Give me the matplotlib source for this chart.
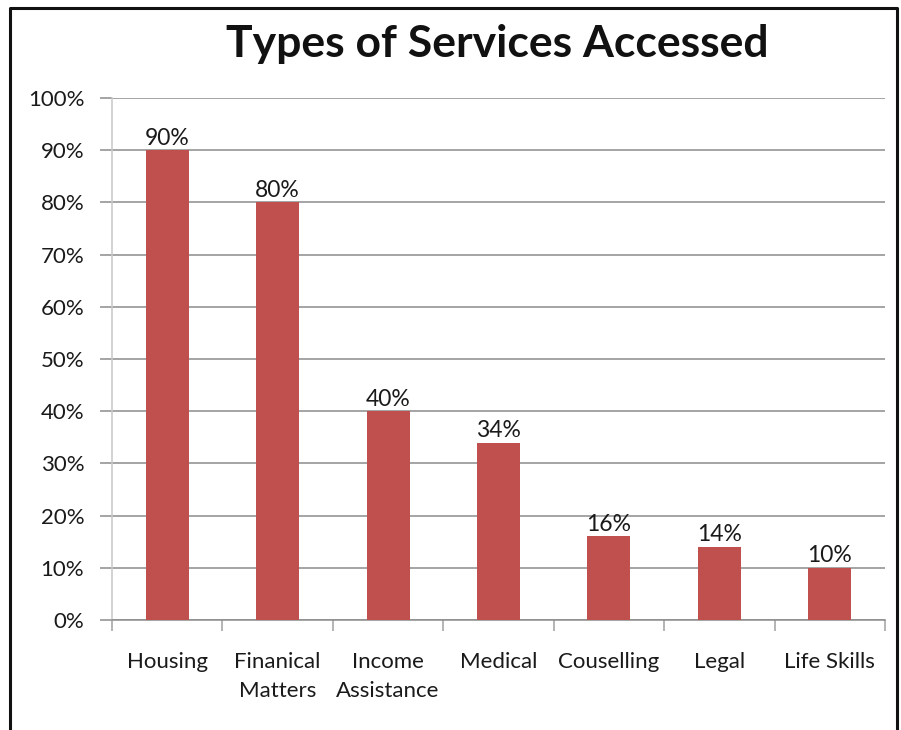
import matplotlib.pyplot as plt
from matplotlib.lines import Line2D
from matplotlib.ticker import FixedLocator, FuncFormatter

categories = ['Housing', 'Finanical\nMatters', 'Income\nAssistance', 'Medical',
              'Couselling', 'Legal', 'Life Skills']
values = [90, 80, 40, 34, 16, 14, 10]

plt.rcParams['font.family'] = ['Lato', 'DejaVu Sans']

fig = plt.figure(figsize=(9.01, 7.30), dpi=100)
ax = fig.add_axes([0.1243, 0.1507, 0.8579, 0.7151])

x = list(range(len(categories)))
ax.bar(x, values, width=0.39, color='#C0504D', zorder=3)

# value labels
for xi, v in zip(x, values):
    ax.text(xi, v + 0.3, f'{v}%', ha='center', va='bottom', fontsize=16.5, color='#1a1a1a')

ax.set_xlim(-0.5, len(categories) - 0.5)
ax.set_ylim(0, 100)
ax.set_yticks(range(0, 101, 10))
ax.yaxis.set_major_formatter(FuncFormatter(lambda v, p: f'{int(v)}%'))
ax.grid(axis='y', color='#8c8c8c', linewidth=1.1, zorder=0)

ax.set_xticks(x)
ax.set_xticklabels(categories, fontsize=16, color='#1a1a1a', linespacing=1.55)
ax.xaxis.set_minor_locator(FixedLocator([i - 0.5 for i in range(len(categories) + 1)]))
ax.tick_params(axis='x', which='major', length=0, pad=23)
ax.tick_params(axis='x', which='minor', length=8, color='#a0a0a0', width=1.1)
ax.tick_params(axis='y', length=9, color='#8c8c8c', width=1.1, labelsize=16,
               labelcolor='#1a1a1a', pad=11)

for s in ['top', 'right']:
    ax.spines[s].set_visible(False)
ax.spines['left'].set_color('#c8c8c8')
ax.spines['left'].set_linewidth(1.1)
ax.spines['bottom'].set_color('#8c8c8c')
ax.spines['bottom'].set_linewidth(1.1)

fig.text(0.552, 0.940, 'Types of Services Accessed', ha='center', va='center',
         fontsize=32, fontweight='bold', color='#111111')

# outer frame (left, top, right edges)
W, H = 901, 730
fx = [10 / W, 10 / W, 897 / W, 897 / W]
fy = [0, 1 - 8 / H, 1 - 8 / H, 0]
fig.add_artist(Line2D(fx, fy, transform=fig.transFigure, color='#111111', linewidth=2.2))

fig.savefig('out.png', dpi=100)
